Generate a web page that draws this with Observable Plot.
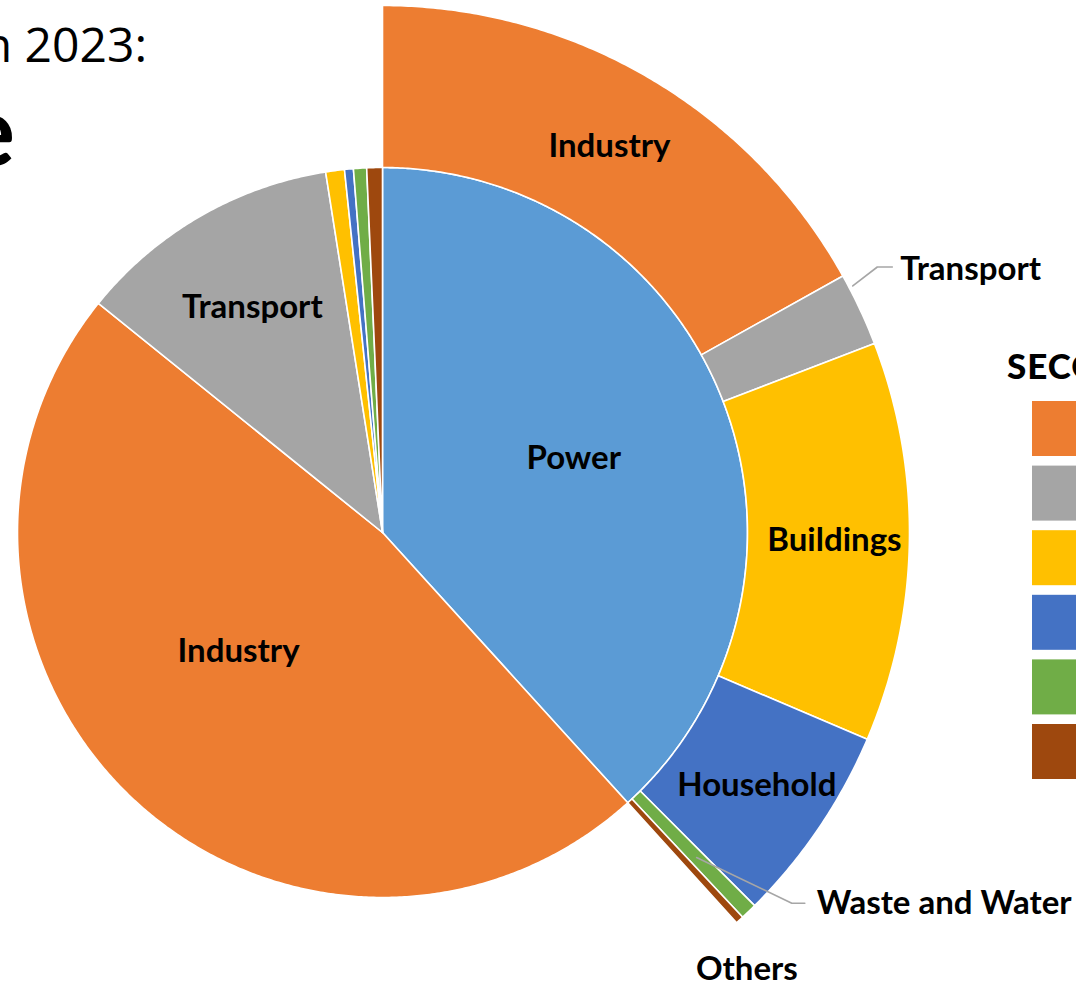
<!DOCTYPE html>
<html>
<head>
<meta charset="utf-8">
<script src="https://cdn.jsdelivr.net/npm/d3@7"></script>
<script src="https://cdn.jsdelivr.net/npm/@observablehq/plot@0.6"></script>
<style>
  html, body { margin: 0; padding: 0; background: #fff; overflow: hidden; }
  #wrap { position: relative; width: 1076px; height: 987px; overflow: hidden; background: #fff; }
  #wrap > svg { position: absolute; left: 0; top: 0; }
  #overlay { pointer-events: none; }
</style>
</head>
<body>
<div id="wrap"></div>
<script>
// ---------------- data ----------------
// Inner pie: share of total emissions by sector (%), clockwise from 12 o'clock
const innerSectors = ["Power", "Industry", "Transport", "Buildings", "Household", "Waste and Water", "Others"];
const innerShares  = [38.25, 47.5, 11.7, 0.83, 0.39, 0.58, 0.69];

// Outer ring: the Power slice broken down by end-use sector (% of total)
const outerSectors = ["Industry", "Transport", "Buildings", "Household", "Waste and Water", "Others"];
const outerShares  = [16.9, 2.25, 12.25, 6.1, 0.5, 0.25];

// Legend entries
const legendTitle = "SECO";
const legendSectors = ["Industry", "Transport", "Buildings", "Household", "Waste and Water", "Others"];

// Title fragments visible in the crop
const titleLine1 = "n 2023:";
const titleLine2 = "e";

// Colours per sector
const sectorNames  = ["Power", "Industry", "Transport", "Buildings", "Household", "Waste and Water", "Others"];
const sectorColors = ["#5B9BD5", "#ED7D31", "#A5A5A5", "#FFC000", "#4472C4", "#70AD47", "#9E480E"];

// ---------------- layout ----------------
const W = 1076, H = 987;
const CX = 382, CY = 532;         // pie centre (px)
const R_IN = 365, R_OUT = 527;    // pie radius, outer ring radius
const FONT = "Lato, 'Open Sans', sans-serif";
const LABEL_SIZE = 33;

const total = d3.sum(innerShares);

function makeSlices(names, shares, r0, r1, ring) {
  let acc = 0;
  return names.map((name, i) => {
    const a0 = acc / total * 360;
    acc += shares[i];
    const a1 = acc / total * 360;
    return {id: ring + i, sector: name, a0, a1, mid: (a0 + a1) / 2, r0, r1};
  });
}
const innerSlices = makeSlices(innerSectors, innerShares, 0, R_IN, "in");
const outerSlices = makeSlices(outerSectors, outerShares, R_IN, R_OUT, "out");

const rad = a => a * Math.PI / 180;
const polar = (a, r) => [r * Math.sin(rad(a)), r * Math.cos(rad(a))];

function polygon(s) {
  const pts = [];
  const n = Math.max(2, Math.ceil((s.a1 - s.a0) / 0.4));
  for (let k = 0; k <= n; k++) pts.push(polar(s.a0 + (s.a1 - s.a0) * k / n, s.r1));
  if (s.r0 === 0) pts.push([0, 0]);
  else for (let k = n; k >= 0; k--) pts.push(polar(s.a0 + (s.a1 - s.a0) * k / n, s.r0));
  pts.push(pts[0]);
  return pts.map(([x, y]) => ({id: s.id, sector: s.sector, x, y}));
}
const slicePoints = [...innerSlices, ...outerSlices].flatMap(polygon);

// label placement: [angle offset (deg), radius (px)]
const inLabelPlace  = {"Power": [0, 205], "Industry": [7, 187], "Transport": [0, 260]};
const outLabelPlace = {"Industry": [0, 448], "Buildings": [0, 452], "Household": [0, 452]};

const centreLabels = [];
innerSlices.forEach(s => {
  const p = inLabelPlace[s.sector];
  if (!p) return;
  const [x, y] = polar(s.mid + p[0], p[1]);
  centreLabels.push({x, y, text: s.sector});
});
outerSlices.forEach(s => {
  const p = outLabelPlace[s.sector];
  if (!p) return;
  const [x, y] = polar(s.mid + p[0], p[1]);
  centreLabels.push({x, y, text: s.sector});
});

// labels outside the ring with leader lines
const outerBySector = Object.fromEntries(outerSlices.map(s => [s.sector, s]));
const startLabels = [];
const leaders = [];
{
  const s = outerBySector["Transport"];
  const [tx, ty] = polar(s.mid - 1.9, 581);
  startLabels.push({x: tx, y: ty, text: s.sector});
  const [sx, sy] = polar(s.mid - 2.6, 531);
  leaders.push({id: "t", x: sx, y: sy}, {id: "t", x: tx - 23, y: ty + 2}, {id: "t", x: tx - 8, y: ty + 2});
}
{
  const s = outerBySector["Waste and Water"];
  const [tx, ty] = polar(s.mid - 5.5, 571);
  startLabels.push({x: tx, y: ty, text: s.sector});
  const [sx, sy] = polar(s.mid, 452);
  leaders.push({id: "w", x: sx, y: sy}, {id: "w", x: tx - 25, y: ty}, {id: "w", x: tx - 12, y: ty});
}
{
  const s = outerBySector["Others"];
  const [tx, ty] = polar(s.mid + 2.85, 569);
  centreLabels.push({x: tx, y: ty, text: s.sector});
}

const chart = Plot.plot({
  width: W, height: H, margin: 0,
  x: {domain: [-CX, W - CX], axis: null},
  y: {domain: [CY - H, CY], axis: null},
  color: {domain: sectorNames, range: sectorColors},
  style: {fontFamily: FONT, background: "transparent", overflow: "visible"},
  marks: [
    Plot.line(slicePoints, {x: "x", y: "y", z: "id", fill: "sector", stroke: "white", strokeWidth: 1.6, strokeLinejoin: "round", curve: "linear"}),
    Plot.line(leaders, {x: "x", y: "y", z: "id", stroke: "#A6A6A6", strokeWidth: 1.6}),
    Plot.text(centreLabels, {x: "x", y: "y", text: "text", fontWeight: "bold", fontSize: LABEL_SIZE, fill: "black", textAnchor: "middle"}),
    Plot.text(startLabels, {x: "x", y: "y", text: "text", fontWeight: "bold", fontSize: LABEL_SIZE, fill: "black", textAnchor: "start"})
  ]
});
document.getElementById("wrap").appendChild(chart);

// ---------------- overlay: title fragments and legend ----------------
const ov = d3.select("#wrap").append("svg").attr("id", "overlay")
  .attr("width", W).attr("height", H);
ov.append("text").attr("x", 147).attr("y", 62).attr("text-anchor", "end")
  .style("font-family", "'Open Sans', sans-serif").style("font-size", "48px").attr("fill", "#000")
  .text(titleLine1);
ov.append("text").attr("x", 15).attr("y", 166).attr("text-anchor", "end")
  .style("font-family", FONT).style("font-weight", "bold").style("font-size", "98px").attr("fill", "#000")
  .text(titleLine2);
ov.append("text").attr("x", 1007).attr("y", 379)
  .style("font-family", FONT).style("font-weight", "900").style("font-size", "35px")
  .style("letter-spacing", "1px").attr("fill", "#000")
  .text(legendTitle);
const legColor = d3.scaleOrdinal(sectorNames, sectorColors);
ov.selectAll("rect.leg").data(legendSectors).join("rect").attr("class", "leg")
  .attr("x", 1032).attr("y", (d, i) => 401 + i * 64.6)
  .attr("width", 55).attr("height", 55)
  .attr("fill", d => legColor(d));
</script>
</body>
</html>
